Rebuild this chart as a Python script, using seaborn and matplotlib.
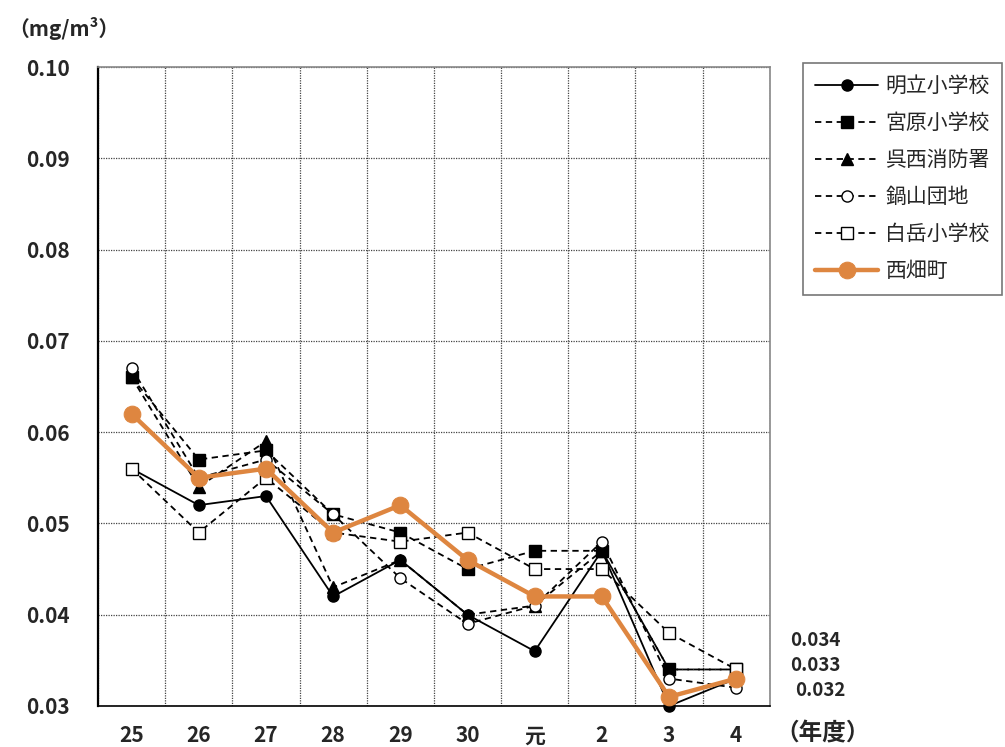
import matplotlib
matplotlib.use('Agg')
import matplotlib.pyplot as plt
from matplotlib.ticker import MultipleLocator, FixedLocator
import seaborn as sns

## Data ##
years = ['25', '26', '27', '28', '29', '30', '元', '2', '3', '4']
meiryu = [0.056, 0.052, 0.053, 0.042, 0.046, 0.040, 0.036, 0.047, 0.030, 0.033]
miyahara = [0.066, 0.057, 0.058, 0.051, 0.049, 0.045, 0.047, 0.047, 0.034, 0.034]
gosei = [0.066, 0.054, 0.059, 0.043, 0.046, 0.040, 0.041, 0.047, 0.034, 0.034]
nabeyama = [0.067, 0.055, 0.057, 0.051, 0.044, 0.039, 0.041, 0.048, 0.033, 0.032]
shiratake = [0.056, 0.049, 0.055, 0.049, 0.048, 0.049, 0.045, 0.045, 0.038, 0.034]
nishihata = [0.062, 0.055, 0.056, 0.049, 0.052, 0.046, 0.042, 0.042, 0.031, 0.033]
end_labels = ['0.034', '0.033', '0.032']

sns.set_style('white')
plt.rcParams['font.family'] = ['Noto Sans CJK JP', 'DejaVu Sans']

fig = plt.figure(figsize=(10.05, 7.47), dpi=100)
ax = fig.add_axes([0.0975, 0.0549, 0.6685, 0.8554])

pos = list(range(len(years)))
orange = '#DE8640'

# (label, values, marker, facecolor, dashed)
series = [
    ('明立小学校', meiryu, 'o', 'black', False),
    ('宮原小学校', miyahara, 's', 'black', True),
    ('呉西消防署', gosei, '^', 'black', True),
    ('鍋山団地', nabeyama, 'o', 'white', True),
    ('白岳小学校', shiratake, 's', 'white', True),
]

for name, vals, mk, fc, dashed in series:
    sns.lineplot(x=pos, y=vals, ax=ax, color='black', lw=1.3,
                 marker=mk, markersize=8, markerfacecolor=fc,
                 markeredgecolor='black', markeredgewidth=1.0,
                 linestyle=(0, (3.5, 2.5)) if dashed else '-',
                 label=name, zorder=3, clip_on=False)

sns.lineplot(x=pos, y=nishihata, ax=ax, color=orange, lw=3.2,
             marker='o', markersize=12, markerfacecolor=orange,
             markeredgecolor=orange, label='西畑町', zorder=4, clip_on=False)

# Axes limits and ticks
ax.set_xlim(-0.5, 9.5)
ax.set_ylim(0.03, 0.10)
ax.set_xticks(pos)
ax.set_xticklabels(years)
ax.xaxis.set_minor_locator(FixedLocator([p + 0.5 for p in range(-1, 10)]))
ax.yaxis.set_major_locator(MultipleLocator(0.01))
ax.yaxis.set_minor_locator(MultipleLocator(0.002))
ax.yaxis.set_major_formatter(matplotlib.ticker.FormatStrFormatter('%.2f'))

ax.tick_params(axis='y', which='major', direction='inout', length=12, width=1.2,
               labelsize=15, pad=14)
ax.tick_params(axis='y', which='minor', direction='inout', length=10, width=1.0)
ax.tick_params(axis='x', which='major', direction='out', length=6, width=1.0,
               labelsize=15, pad=8)
ax.tick_params(axis='x', which='minor', direction='out', length=6, width=1.0)
for lab in ax.get_xticklabels() + ax.get_yticklabels():
    lab.set_fontweight('bold')

# Grid: horizontal at majors, vertical at category borders
ax.grid(False)
ax.yaxis.grid(True, which='major', color='#444444', ls=(0, (1, 1)), lw=0.9)
ax.xaxis.grid(True, which='minor', color='#444444', ls=(0, (1, 1)), lw=0.9)

ax.spines['left'].set_color('black')
ax.spines['left'].set_linewidth(1.6)
ax.spines['bottom'].set_color('black')
ax.spines['bottom'].set_linewidth(1.2)
for s in ['top', 'right']:
    ax.spines[s].set_color('#888888')
    ax.spines[s].set_linewidth(1.2)
ax.set_xlabel('')
ax.set_ylabel('')

# Unit labels
fig.text(0.008, 0.962, '（mg/m³）', fontsize=15, fontweight='bold', va='center')
fig.text(0.772, 0.018, '（年度）', fontsize=17, fontweight='bold', va='center')

# Values at the right end
for i, txt in enumerate(end_labels):
    fig.text(0.786 + (0.005 if i == 2 else 0), 0.142 - i * 0.0335, txt,
             fontsize=13.5, fontweight='bold', va='center')

leg = ax.legend(loc='upper left', bbox_to_anchor=(0.799, 0.916),
                bbox_transform=fig.transFigure, fontsize=15, frameon=True,
                fancybox=False, edgecolor='#555555', handlelength=3.0,
                handletextpad=0.35, labelspacing=0.72, borderpad=0.6,
                borderaxespad=0)
leg.get_frame().set_linewidth(1.2)

fig.savefig('out.png', dpi=100)
